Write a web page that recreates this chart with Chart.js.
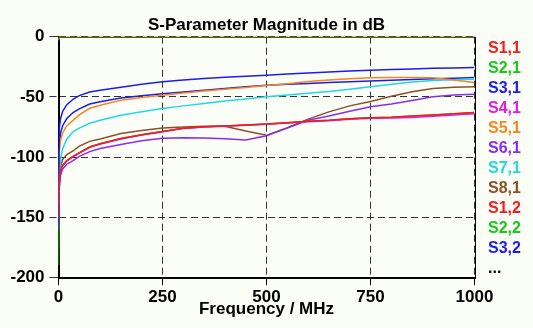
<!DOCTYPE html>
<html><head><meta charset="utf-8">
<style>html,body{margin:0;padding:0;background:#fbfdf7;}#wrap{width:533px;height:328px;}</style>
<script src="https://cdn.jsdelivr.net/npm/chart.js@4/dist/chart.umd.min.js"></script>
</head><body><div id="wrap"><canvas id="c" width="533" height="328"></canvas></div>
<script>
// Frequency points (MHz)
const freqs = [0,2,5,10,20,35,50,75,100,150,200,250,300,350,400,450,500,550,600,650,700,750,800,850,900,950,1000];
// Magnitudes (dB)
const s11 = [-150,-120,-112,-107,-103,-99.5,-96.5,-91.7,-89,-84.7,-81.5,-78.8,-76,-74.8,-74.2,-73.3,-72.5,-71.5,-70.3,-69.5,-68.3,-67.3,-67,-66,-65,-64,-63];
const s21 = [-3,0,0,0,0,0,0,0,0,0,0,0,0,0,0,0,0,0,0,0,0,0,0,0,0,0,0];
const s31 = [-155,-76,-68,-62,-56.5,-52,-49,-46,-44.5,-42,-39.5,-37.5,-36,-34.8,-33.8,-32.8,-32,-31,-30.2,-29.3,-28.5,-27.8,-27.2,-26.8,-26.3,-26,-25.7];
const s41 = [-142,-120.5,-112.3,-107.3,-103.3,-99.8,-96.8,-92,-89.3,-85,-81.8,-79.1,-76.3,-75.1,-74.5,-73.6,-72.8,-71.8,-70.6,-69.8,-68.6,-67.7,-67.6,-67.2,-66.2,-65,-64];
const s51 = [-140,-95,-86,-80,-74,-69.5,-65,-59.5,-57,-52.8,-50.5,-48.6,-46.8,-45.2,-43.7,-42.2,-40.6,-39.2,-37.2,-36,-35,-34.2,-34,-34,-34.2,-36,-38];
const s61 = [-160,-125,-115,-110,-106,-103,-99.5,-95.5,-93,-89.7,-86.5,-84.5,-84,-84.2,-84.8,-85.8,-82.3,-76,-69.5,-66,-62,-58.3,-56,-53,-50,-48.5,-47.8];
const s71 = [-130,-115,-102,-93,-85,-79,-76,-72,-69.5,-65.3,-62.3,-59.7,-57.5,-55.5,-53.5,-51.7,-50,-48.5,-47,-45.5,-43.6,-41.7,-39.5,-37.6,-36.5,-35.8,-35.3];
const s81 = [-150,-115,-108,-102,-98,-95,-91,-87,-85,-80.5,-78,-75.8,-75,-74.5,-74.4,-78.3,-82,-75.6,-68.5,-62.5,-57.5,-53.8,-49.5,-45.8,-43,-42,-41.7];
const s12 = [-3,0,0,0,0,0,0,0,0,0,0,0,0,0,0,0,0,0,0,0,0,0,0,0,0,0,0];
const s22 = [-190,-125,-112,-107,-103,-99.5,-96.5,-91.7,-89,-84.7,-81.5,-78.8,-76,-74.8,-74.2,-73.3,-72.5,-71.5,-70.3,-69.5,-68.3,-67.3,-67,-66,-65,-64,-63];
const s32 = [-150,-90,-80,-74,-68,-63,-60,-56,-54,-51,-49,-47.5,-46,-44.5,-43,-41.5,-40.3,-39.5,-38.8,-38,-37.4,-36.8,-36.2,-35.6,-35,-34.5,-34];

const seriesNames = ['S1,1','S2,1','S3,1','S4,1','S5,1','S6,1','S7,1','S8,1','S1,2','S2,2','S3,2'];
const seriesValues = [s11,s21,s31,s41,s51,s61,s71,s81,s12,s22,s32];
const seriesColors = ['#f41c1c','#1cc41c','#1c1cf0','#e01ce0','#f8861e','#8a2cf0','#22d8e0','#8a5224','#f41c1c','#1cc41c','#1c1cf0'];
const xTicks = [0,250,500,750,1000];
const yTicks = [0,-50,-100,-150,-200];

const FONT = "'Liberation Sans', Arial, sans-serif";

const datasets = seriesNames.map((name, k) => ({
  label: name,
  data: freqs.map((f, i) => ({x: f, y: seriesValues[k][i]})),
  borderColor: seriesColors[k],
  backgroundColor: seriesColors[k],
  borderWidth: 1.5,
  pointRadius: 0,
  tension: 0,
  fill: false,
  yAxisID: 'y'
}));

const framePlugin = {
  id: 'frame',
  beforeDatasetsDraw(chart) {
    const {ctx, chartArea: a} = chart;
    ctx.save();
    ctx.strokeStyle = '#000';
    ctx.lineWidth = 1;
    ctx.strokeRect(Math.round(a.left) + 0.5, Math.round(a.top) + 0.5, Math.round(a.right - a.left), Math.round(a.bottom - a.top));
    ctx.restore();
  }
};

const legendPlugin = {
  id: 'sideLegend',
  afterDraw(chart) {
    const ctx = chart.ctx;
    ctx.save();
    ctx.font = 'bold 16px ' + FONT;
    ctx.textAlign = 'left';
    ctx.textBaseline = 'middle';
    const x = chart.chartArea.right + 13.5;
    seriesNames.forEach((n, i) => {
      ctx.fillStyle = seriesColors[i];
      ctx.fillText(n, x, 48.5 + 20 * i);
    });
    ctx.fillStyle = '#000';
    ctx.fillText('...', x, 48.5 + 20 * seriesNames.length);
    ctx.restore();
  }
};

new Chart(document.getElementById('c'), {
  type: 'line',
  data: {datasets},
  plugins: [framePlugin, legendPlugin],
  options: {
    responsive: false,
    animation: false,
    devicePixelRatio: 1,
    layout: {padding: 0},
    plugins: {
      legend: {display: false},
      tooltip: {enabled: false},
      title: {
        display: true,
        text: 'S-Parameter Magnitude in dB',
        color: '#000',
        font: {family: FONT, size: 17, weight: 'bold'},
        padding: {top: 15, bottom: 1.3}
      }
    },
    scales: {
      x: {
        type: 'linear', min: 0, max: 1000,
        afterBuildTicks: s => { s.ticks = xTicks.map(v => ({value: v})); },
        afterFit: s => { s.height = 50.7; },
        grid: {color: '#333', lineWidth: 1, tickLength: 8, tickColor: '#000', tickBorderDash: []},
        border: {color: '#000', dash: [7, 4]},
        ticks: {color: '#000', padding: 2, maxRotation: 0, font: {family: FONT, size: 17, weight: 'bold'},
                callback: v => String(v)},
        title: {display: true, text: 'Frequency / MHz', color: '#000', font: {family: FONT, size: 17, weight: 'bold'}, padding: {top: 0, bottom: 8}}
      },
      y: {
        type: 'linear', position: 'left', min: -200, max: 0,
        afterBuildTicks: s => { s.ticks = yTicks.map(v => ({value: v})); },
        afterFit: s => { s.width = 58.5; },
        grid: {color: '#333', lineWidth: 1, tickLength: 9, tickColor: '#333',
               tickBorderDash: c => (c.tick && (c.tick.value === 0 || c.tick.value === -200)) ? [] : [7, 4]},
        border: {color: '#000', dash: [7, 4]},
        ticks: {color: '#000', padding: 5, font: {family: FONT, size: 17, weight: 'bold'},
                callback: v => String(v)}
      },
      yRight: {
        type: 'linear', position: 'right', min: 0, max: 1, display: true,
        afterBuildTicks: s => { s.ticks = []; },
        afterFit: s => { s.width = 58.5; },
        grid: {display: false, drawOnChartArea: false, drawTicks: false},
        border: {display: false},
        ticks: {display: false}
      }
    }
  }
});
</script>
</body></html>
